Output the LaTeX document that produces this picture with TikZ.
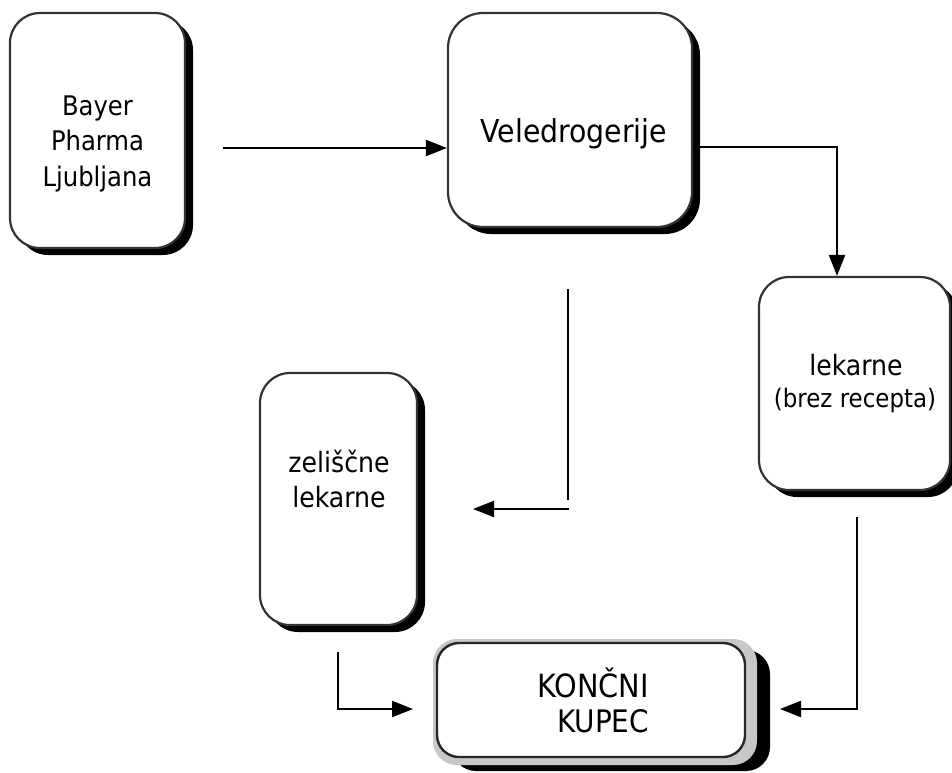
\documentclass[tikz,border=0pt]{standalone}
\usepackage{fontspec}
\setmainfont{DejaVu Sans Condensed}
\usetikzlibrary{arrows.meta,shadows}
\begin{document}
\begin{tikzpicture}[x=1pt,y=-1pt,
  box/.style={draw=black!80, line width=2.2pt, fill=white, rounded corners=#1, inner sep=0pt,
    drop shadow={shadow xshift=8pt, shadow yshift=-7pt, opacity=1, fill=black}},
  box/.default=30pt,
  plainbox/.style={draw=black!85, line width=2.4pt, fill=white, rounded corners=#1, inner sep=0pt},
  txt/.style={anchor=base, inner sep=0pt, font=\fontsize{#1}{#1}\selectfont},
  txt/.default=28,
  conn/.style={line width=2.2pt, black},
  arr/.style={conn, -{Triangle[length=21pt, width=16pt]}}
]
\useasboundingbox (0,0) rectangle (952,772);

% boxes
\node[box=30pt, minimum width=175pt, minimum height=235pt] (bayer) at (97.5,130.5) {};
\node[box=35pt, minimum width=244pt, minimum height=214pt] (vele) at (570,120) {};
\node[box=30pt, minimum width=191pt, minimum height=213pt] (lek) at (854.5,383.5) {};
\node[box=30pt, minimum width=157pt, minimum height=252pt] (zel) at (338.5,499) {};

% KONCNI KUPEC layered box
\fill[black, rounded corners=24pt] (452,650) rectangle (770,771);
\fill[black!22, rounded corners=24pt] (433,639) rectangle (757,765);
\node[plainbox=22pt, minimum width=308pt, minimum height=114pt] (konc) at (591,700) {};

% texts
\node[txt=27] (t1) at (97.5,115) {Bayer};
\node[txt=27] (t2) at (97.5,150) {Pharma};
\node[txt=27] (t3) at (97.5,186) {Ljubljana};
\node[txt=31.5] (t4) at (574,142) {Veledrogerije};
\node[txt=28] (t5) at (856,375) {lekarne};
\node[txt=25.5] (t6) at (855,407) {(brez recepta)};
\node[txt=28] (t7) at (339,472) {zeliščne};
\node[txt=28] (t8) at (339,507) {lekarne};
\node[txt=32] (t9) at (593,697) {KONČNI};
\node[txt=31] (t10) at (603,732) {KUPEC};

% connector end points
\coordinate (a0) at (223,148);
\coordinate (b1) at (837,147);
\coordinate (m0) at (568,289);
\coordinate (m1) at (568,500);
\coordinate (m3) at (569,509);
\coordinate (m2) at (473,509);
\coordinate (r0) at (857,517);
\coordinate (r1) at (857,709);
\coordinate (r2) at (780,709);
\coordinate (l0) at (338,652);
\coordinate (l1) at (338,709);
\coordinate (l2) at (413,709);

% connectors
\draw[arr] (a0) -- (vele.west |- a0);
\draw[arr] (vele.east |- b1) -- (b1) -- (b1 |- lek.north);
\draw[conn] (m0) -- (m1);
\draw[arr] (m3) -- (m2);
\draw[arr] (r0) -- (r1) -- (r2);
\draw[arr] (l0) -- (l1) -- (l2);
\end{tikzpicture}
\end{document}
